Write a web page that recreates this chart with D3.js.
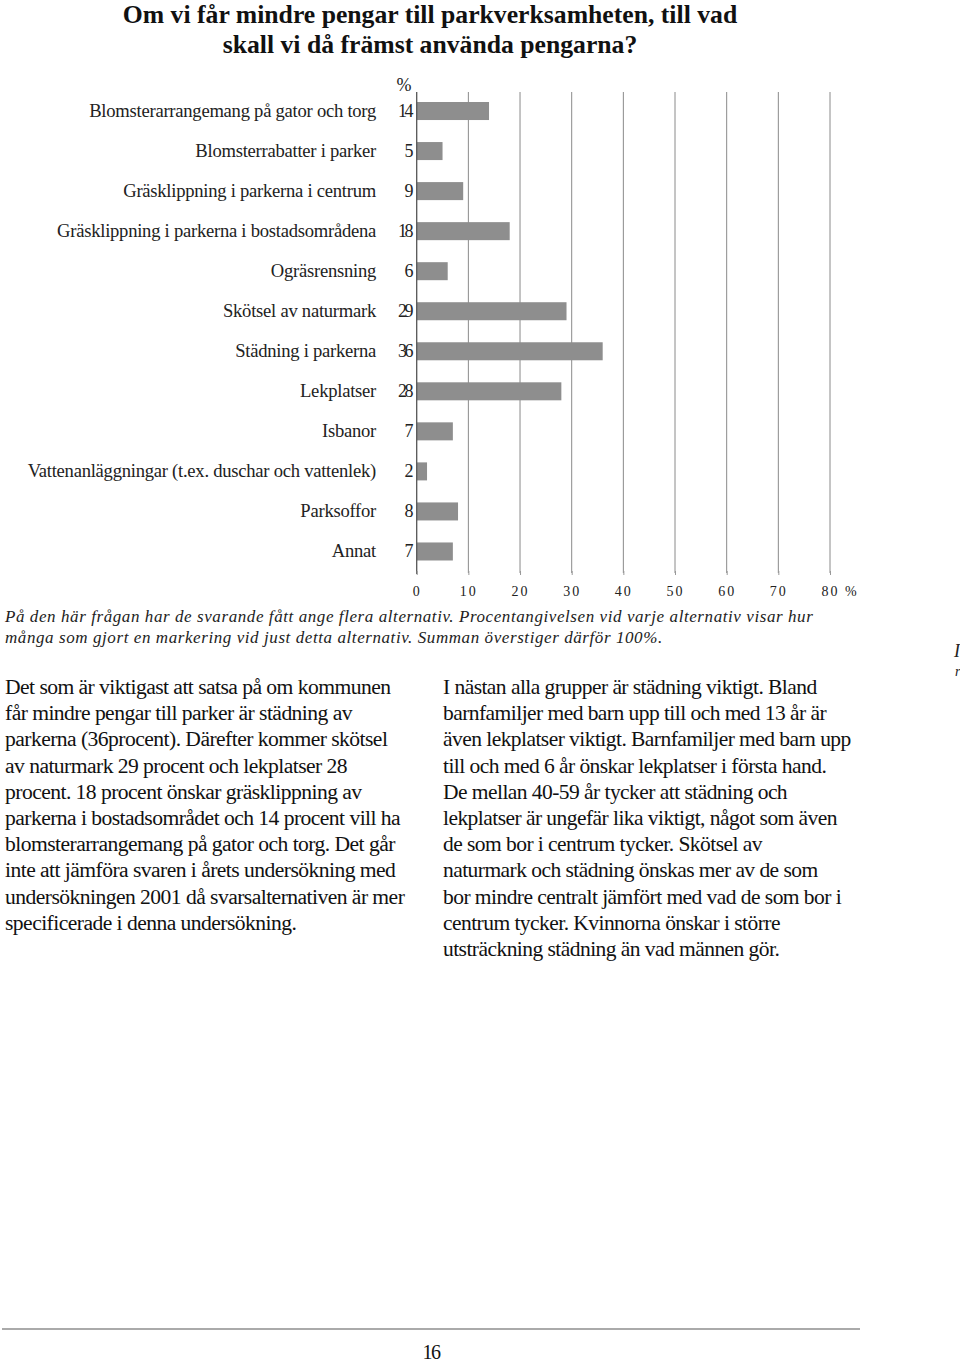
<!DOCTYPE html>
<html><head><meta charset="utf-8">
<script src="https://cdn.jsdelivr.net/npm/d3@7/dist/d3.min.js"></script>
<style>
html,body{margin:0;padding:0;background:#fff;}
svg{display:block;font-family:"Liberation Serif","Times New Roman",serif;}
</style></head>
<body><svg id="c" width="960" height="1364"></svg>
<script>
const title = ["Om vi får mindre pengar till parkverksamheten, till vad", "skall vi då främst använda pengarna?"];
const categories = ["Blomsterarrangemang på gator och torg","Blomsterrabatter i parker","Gräsklippning i parkerna i centrum","Gräsklippning i parkerna i bostadsområdena","Ogräsrensning","Skötsel av naturmark","Städning i parkerna","Lekplatser","Isbanor","Vattenanläggningar (t.ex. duschar och vattenlek)","Parksoffor","Annat"];
const values = [14,5,9,18,6,29,36,28,7,2,8,7];
const ticks = [0,10,20,30,40,50,60,70,80];
const footnote = ["På den här frågan har de svarande fått ange flera alternativ. Procentangivelsen vid varje alternativ visar hur","många som gjort en markering vid just detta alternativ. Summan överstiger därför 100%."];
const leftText = ["Det som är viktigast att satsa på om kommunen","får mindre pengar till parker är städning av","parkerna (36procent). Därefter kommer skötsel","av naturmark 29 procent och lekplatser 28","procent. 18 procent önskar gräsklippning av","parkerna i bostadsområdet och 14 procent vill ha","blomsterarrangemang på gator och torg. Det går","inte att jämföra svaren i årets undersökning med","undersökningen 2001 då svarsalternativen är mer","specificerade i denna undersökning."];
const rightText = ["I nästan alla grupper är städning viktigt. Bland","barnfamiljer med barn upp till och med 13 år är","även lekplatser viktigt. Barnfamiljer med barn upp","till och med 6 år önskar lekplatser i första hand.","De mellan 40-59 år tycker att städning och","lekplatser är ungefär lika viktigt, något som även","de som bor i centrum tycker. Skötsel av","naturmark och städning önskas mer av de som","bor mindre centralt jämfört med vad de som bor i","centrum tycker. Kvinnorna önskar i större","utsträckning städning än vad männen gör."];
const pageNo = "16";

const svg = d3.select("#c");

// Title
svg.append("g").selectAll("text").data(title).join("text")
  .attr("x", 430).attr("y", (d,i)=>23+i*29.5)
  .attr("text-anchor","middle").attr("font-weight","bold")
  .attr("font-size",25.7).attr("fill","#111").text(d=>d);

// Scales
const x = d3.scaleLinear().domain([0,80]).range([416.7,830]);
const y = d3.scaleBand().domain(categories).range([91,571.5]).paddingInner(0.55).paddingOuter(0.275);

// Gridlines
svg.append("g").selectAll("line").data(ticks.filter(t=>t>0)).join("line")
  .attr("x1",d=>x(d)).attr("x2",d=>x(d)).attr("y1",92).attr("y2",573)
  .attr("stroke","#8a8a8a").attr("stroke-width",1);

// Bars
svg.append("g").selectAll("rect").data(values).join("rect")
  .attr("x",x(0)).attr("y",(d,i)=>y(categories[i]))
  .attr("width",d=>x(d)-x(0)).attr("height",y.bandwidth())
  .attr("fill","#8e8e8e");

// Axis line
svg.append("line").attr("x1",x(0)).attr("x2",x(0)).attr("y1",92).attr("y2",574)
  .attr("stroke","#555").attr("stroke-width",1.3);

// Bottom axis ticks + labels
const xAxis = d3.axisBottom(x).tickValues(ticks).tickSize(4).tickPadding(11).tickFormat(d=>d);
const gx = svg.append("g").attr("transform","translate(0,571)").call(xAxis);
gx.select(".domain").remove();
gx.selectAll(".tick line").attr("stroke","#999");
gx.selectAll(".tick text").attr("font-family","Liberation Serif").attr("font-size",14)
  .attr("letter-spacing","2px").attr("fill","#222");
svg.append("text").attr("x",845).attr("y",596).attr("font-size",14).attr("fill","#222").text("%");

// Category labels
svg.append("g").selectAll("text").data(categories).join("text")
  .attr("x",376).attr("y",d=>y(d)+y.bandwidth()/2+6)
  .attr("text-anchor","end").attr("font-size",18.6).attr("letter-spacing","-0.25px")
  .attr("fill","#222").text(d=>d);

// Value labels
svg.append("g").selectAll("text").data(values).join("text")
  .attr("x",411).attr("y",(d,i)=>y(categories[i])+y.bandwidth()/2+6)
  .attr("text-anchor","end").attr("font-size",18).attr("letter-spacing","-2.5px")
  .attr("fill","#222").text(d=>d);
svg.append("text").attr("x",404).attr("y",91).attr("text-anchor","middle")
  .attr("font-size",18).attr("fill","#222").text("%");

// Footnote
svg.append("g").selectAll("text").data(footnote).join("text")
  .attr("x",5).attr("y",(d,i)=>622+i*21)
  .attr("font-style","italic").attr("font-size",17).attr("letter-spacing","0.58px")
  .attr("fill","#222").text(d=>d);

// Body columns
svg.append("g").selectAll("text").data(leftText).join("text")
  .attr("x",5).attr("y",(d,i)=>694+i*26.2)
  .attr("font-size",21.6).attr("letter-spacing","-0.55px").attr("fill","#111").text(d=>d);
svg.append("g").selectAll("text").data(rightText).join("text")
  .attr("x",443).attr("y",(d,i)=>694+i*26.2)
  .attr("font-size",21.5).attr("letter-spacing","-0.55px").attr("fill","#111").text(d=>d);

// Stray fragments at right edge
svg.append("text").attr("x",954).attr("y",657).attr("font-style","italic").attr("font-size",18).attr("fill","#222").text("I");
svg.append("text").attr("x",955).attr("y",676).attr("font-style","italic").attr("font-size",14).attr("fill","#222").text("r");

// Bottom rule and page number
svg.append("line").attr("x1",2).attr("x2",860).attr("y1",1329).attr("y2",1329)
  .attr("stroke","#aaa").attr("stroke-width",2);
svg.append("text").attr("x",431).attr("y",1359).attr("text-anchor","middle")
  .attr("font-size",20).attr("letter-spacing","-1.5px").attr("fill","#111").text(pageNo);
</script></body></html>
